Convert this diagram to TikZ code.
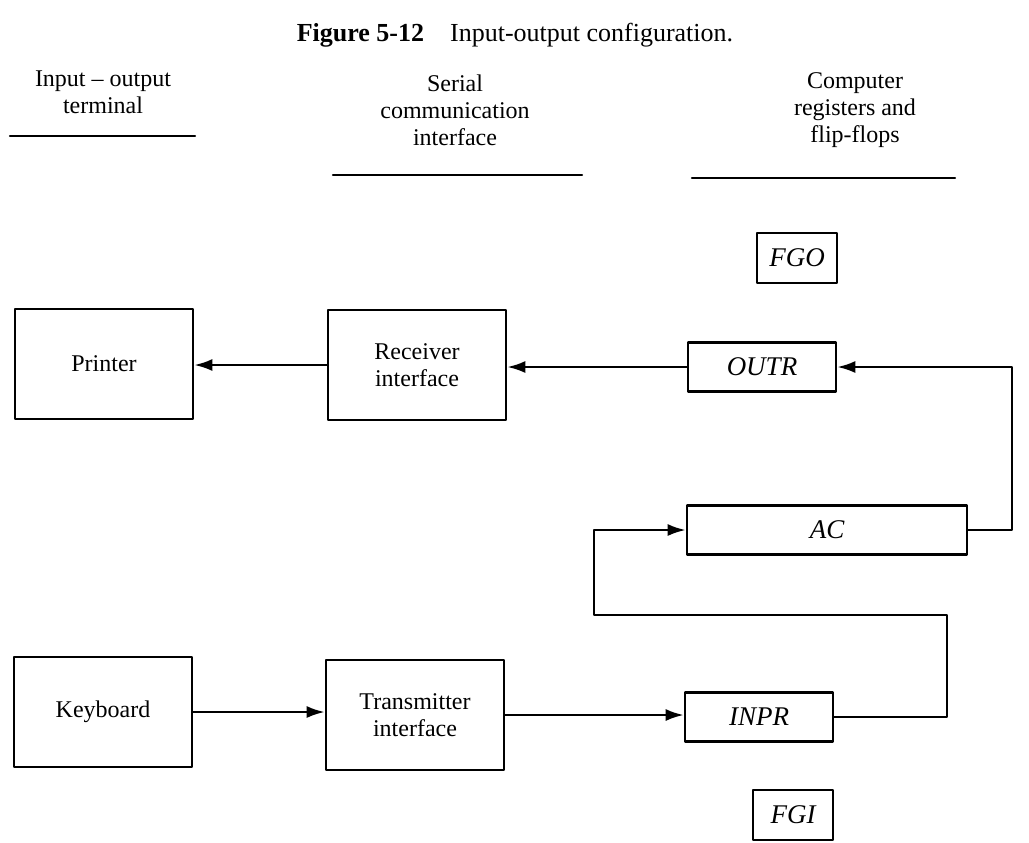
\documentclass[tikz,border=0pt]{standalone}
\usepackage{fontspec}
\setmainfont{Liberation Serif}
\usetikzlibrary{arrows.meta}
\tikzset{
  unitbox/.style={draw,line width=1.3pt,minimum width=89pt,minimum height=55pt,align=center,inner sep=2pt},
  regbox/.style={draw,line width=1.3pt,minimum height=24.5pt,inner sep=2pt,font=\fontsize{13.5}{15}\selectfont\itshape},
  flagbox/.style={regbox,minimum width=40pt,minimum height=25pt},
  head/.style={align=center,font=\fontsize{12}{13.5}\selectfont},
  link/.style={line width=1.2pt,-{Latex[length=9pt,width=6pt]}},
  wire/.style={line width=1.2pt},
}
\begin{document}
\begin{tikzpicture}[x=0.5pt,y=-0.5pt,line cap=round,line join=round,font=\fontsize{12}{13.5}\selectfont]
\path[use as bounding box] (0,0) rectangle (1029,842);
% title
\node[font=\fontsize{13}{15}\selectfont] (title) at (515,35) {\textbf{Figure 5-12}\quad Input-output configuration.};
% column headings
\node[head] (hterm) at (103,92) {Input -- output\\terminal};
\node[head] (hser) at (455,110) {Serial\\communication\\interface};
\node[head] (hcomp) at (855,110) {Computer\\registers and\\flip-flops};
\draw[wire] (10,136) -- (195,136);
\draw[wire] (333,175) -- (582,175);
\draw[wire] (692,178) -- (955,178);
% terminal and interface units
\node[unitbox] (printer) at (104,364) {Printer};
\node[unitbox] (recv) at (417,365) {Receiver\\interface};
\node[unitbox] (keyb) at (103,712) {Keyboard};
\node[unitbox] (trans) at (415,715) {Transmitter\\interface};
% registers and flags
\node[flagbox] (fgo) at (797,258) {FGO};
\node[regbox,minimum width=74pt] (outr) at (762,367) {OUTR};
\node[regbox,minimum width=140pt] (ac) at (827,530) {AC};
\node[regbox,minimum width=74pt] (inpr) at (759,717) {INPR};
\node[flagbox] (fgi) at (793,815) {FGI};
% data paths
\draw[link] (outr.west) -- (recv.east |- outr.west);
\draw[link] (recv.west) -- (printer.east |- recv.west);
\draw[link] (keyb.east) -- (trans.west |- keyb.east);
\draw[link] (trans.east) -- (inpr.west |- trans.east);
\draw[link] (ac.east) -- (1012,530) |- (outr.east);
\draw[link] (inpr.east) -| (947,615) -| (594,530) -- (ac.west);
\end{tikzpicture}
\end{document}
